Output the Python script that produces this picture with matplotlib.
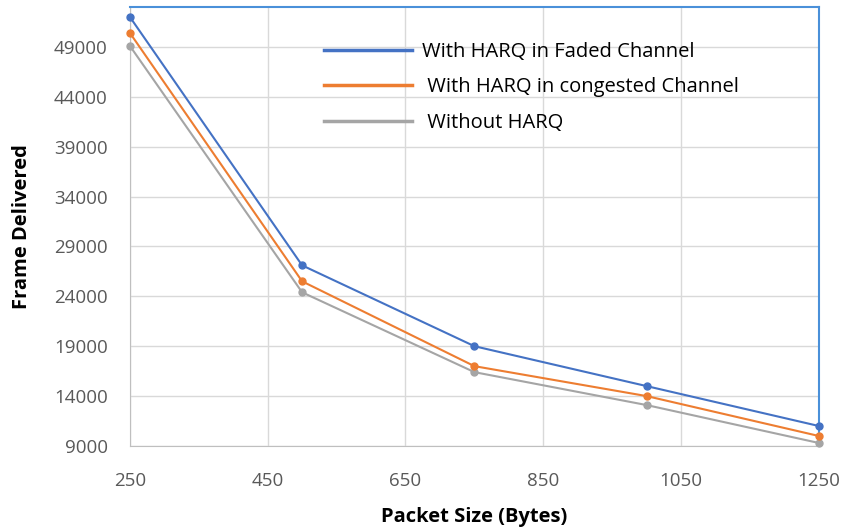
import matplotlib.pyplot as plt

# Datos
packet_size = [250, 500, 750, 1000, 1250]
harq_faded = [52000, 27100, 19000, 15000, 11000]
harq_congested = [50400, 25500, 17000, 14000, 10000]
without_harq = [49100, 24400, 16400, 13100, 9300]

series_labels = [
    "With HARQ in Faded Channel",
    " With HARQ in congested Channel",
    " Without HARQ",
]
y_ticks = list(range(9000, 50000, 5000))
x_ticks = [250, 450, 650, 850, 1050, 1250]

plt.rcParams["font.family"] = ["Open Sans", "DejaVu Sans"]

fig = plt.figure(figsize=(8.43, 5.30), dpi=100)
ax = fig.add_axes([0.154, 0.1585, 0.8175, 0.8285])

ax.plot(packet_size, harq_faded, color="#4472C4", marker="o", markersize=5,
        linewidth=1.5, label=series_labels[0], clip_on=False, zorder=5)
ax.plot(packet_size, harq_congested, color="#ED7D31", marker="o", markersize=5,
        linewidth=1.5, label=series_labels[1], clip_on=False, zorder=4)
ax.plot(packet_size, without_harq, color="#A5A5A5", marker="o", markersize=5,
        linewidth=1.5, label=series_labels[2], clip_on=False, zorder=3)

ax.set_xlim(250, 1250)
ax.set_ylim(9000, 53000)
ax.set_xticks(x_ticks)
ax.set_yticks(y_ticks)
ax.grid(True, color="#D9D9D9", linewidth=1)
ax.set_axisbelow(True)
ax.tick_params(length=0, labelsize=13.5, labelcolor="#595959")
ax.tick_params(axis="x", pad=19)
ax.tick_params(axis="y", pad=16)

for side in ["left", "bottom"]:
    ax.spines[side].set_color("#BFBFBF")
for side in ["top", "right"]:
    ax.spines[side].set_color("#4A90D9")
    ax.spines[side].set_linewidth(1.5)

ax.set_xlabel("Packet Size (Bytes)", fontsize=14.5, fontweight="bold", labelpad=12)
ax.set_ylabel("Frame Delivered", fontsize=14.5, fontweight="bold", labelpad=16)

leg = ax.legend(loc="upper left", bbox_to_anchor=(0.255, 0.962), frameon=False,
                fontsize=14.5, handlelength=4.4, labelspacing=0.78, handletextpad=0.5)
for line in leg.get_lines():
    line.set_marker("")
    line.set_linewidth(2.5)

plt.savefig("out.png", dpi=100)
